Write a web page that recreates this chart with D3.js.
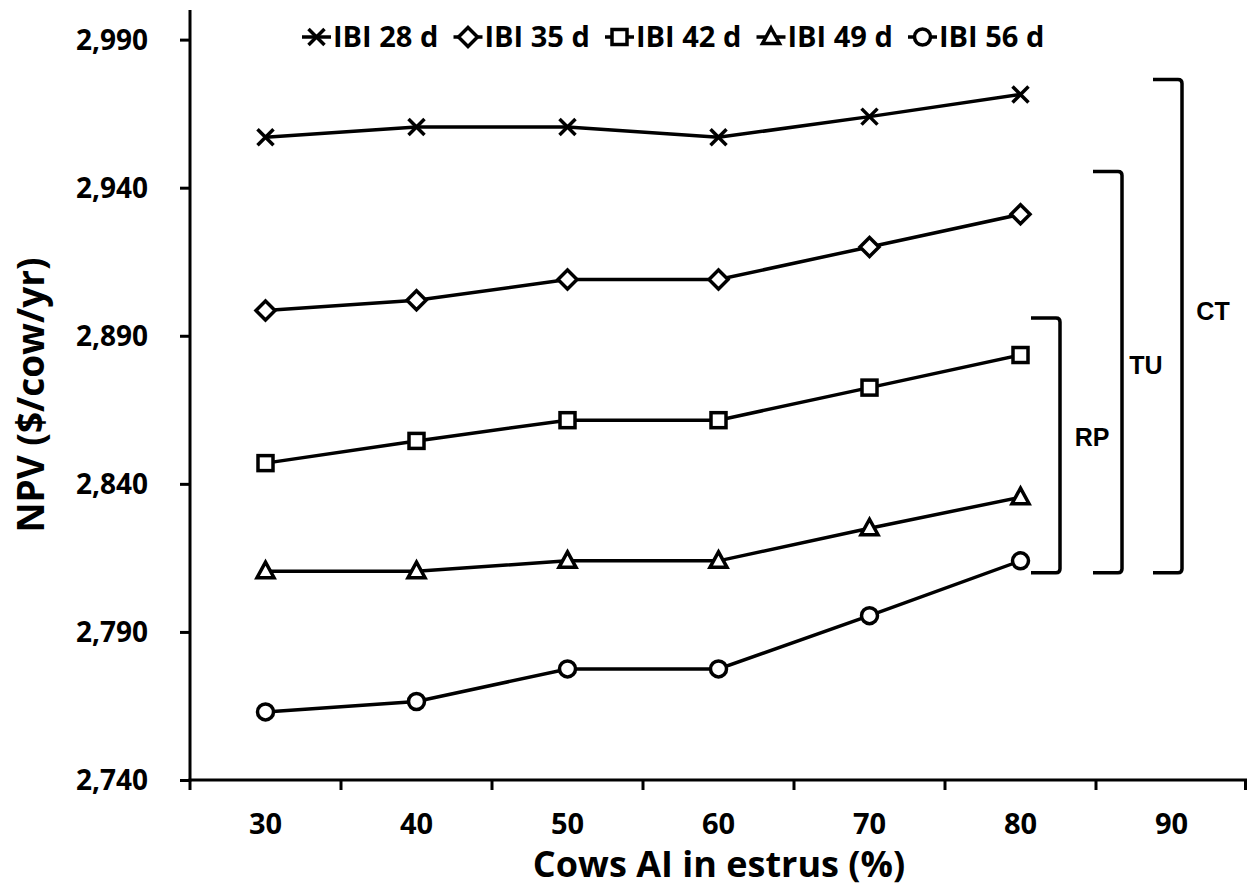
<!DOCTYPE html>
<html>
<head>
<meta charset="utf-8">
<script src="https://cdn.jsdelivr.net/npm/d3@7"></script>
<style>
  body { margin: 0; background: #fff; }
  text { font-family: "Open Sans", "DejaVu Sans", sans-serif; font-weight: bold; fill: #000; }
</style>
</head>
<body>
<svg id="chart" width="1247" height="888"></svg>
<script>
// categories on the x axis (90 has no data)
var categories = [30, 40, 50, 60, 70, 80, 90];
var yTicks = [2740, 2790, 2840, 2890, 2940, 2990];

var seriesNames = ['IBI 28 d', 'IBI 35 d', 'IBI 42 d', 'IBI 49 d', 'IBI 56 d'];
var seriesSymbols = ['cross', 'diamond', 'square', 'triangle', 'circle'];

// NPV values for 30..80 % cows AI in estrus
var ibi28 = [2957, 2960.5, 2960.5, 2957, 2964, 2971.5];
var ibi35 = [2898.5, 2902, 2909, 2909, 2920, 2931];
var ibi42 = [2847, 2854.5, 2861.5, 2861.5, 2872.5, 2883.5];
var ibi49 = [2810.5, 2810.5, 2814, 2814, 2825, 2835.5];
var ibi56 = [2763, 2766.5, 2777.5, 2777.5, 2795.5, 2814];
var allSeries = [ibi28, ibi35, ibi42, ibi49, ibi56];

// brackets: label, top value, bottom value
var bracketLabels = ['RP', 'TU', 'CT'];
var bracketTops = [2896, 2945.5, 2976.5];
var bracketBottom = 2810;

var svg = d3.select('#chart');
var mLeft = 190, mRight = 1247, mTop = 10, mBottom = 780;

var x = d3.scaleBand().domain(categories).range([mLeft, mRight]).padding(0);
var y = d3.scaleLinear().domain([2740, 3000]).range([mBottom, mTop]);

// y axis
var yAxis = d3.axisLeft(y).tickValues(yTicks).tickSize(10).tickFormat(d3.format(','));
var gy = svg.append('g').attr('transform', 'translate(' + mLeft + ',0)').call(yAxis);
gy.select('.domain').remove();
gy.selectAll('.tick line').attr('stroke', '#000').attr('stroke-width', 3);
gy.selectAll('.tick text').attr('font-size', 28).attr('x', -42).attr('dy', '0.35em');
svg.append('line').attr('x1', mLeft).attr('x2', mLeft).attr('y1', mTop).attr('y2', mBottom + 1.5)
  .attr('stroke', '#000').attr('stroke-width', 3);

// x axis
var xAxis = d3.axisBottom(x).tickSize(0).tickPadding(0);
var gx = svg.append('g').attr('transform', 'translate(0,' + mBottom + ')').call(xAxis);
gx.select('.domain').remove();
gx.selectAll('.tick text').attr('font-size', 29).attr('y', 44).attr('dy', '0.35em');
svg.append('line').attr('x1', mLeft - 1.5).attr('x2', mRight).attr('y1', mBottom).attr('y2', mBottom)
  .attr('stroke', '#000').attr('stroke-width', 3);
var bounds = categories.map(function(c) { return x(c); }).concat([mRight - 1.5]);
svg.selectAll('.xtick').data(bounds).enter().append('line')
  .attr('x1', function(d) { return d; }).attr('x2', function(d) { return d; })
  .attr('y1', mBottom).attr('y2', mBottom + 10)
  .attr('stroke', '#000').attr('stroke-width', 3);

// axis titles
svg.append('text').attr('x', 719).attr('y', 864).attr('dy', '0.35em')
  .attr('text-anchor', 'middle').attr('font-size', 36).text('Cows AI in estrus (%)');
svg.append('text').attr('transform', 'translate(31,395) rotate(-90)').attr('dy', '0.35em')
  .attr('text-anchor', 'middle').attr('font-size', 37).text('NPV ($/cow/yr)');

function drawSymbol(g, kind, cx, cy) {
  var s;
  if (kind === 'cross') {
    s = g.append('path').attr('d', 'M' + (cx - 8) + ',' + (cy - 8) + 'L' + (cx + 8) + ',' + (cy + 8) +
      'M' + (cx - 8) + ',' + (cy + 8) + 'L' + (cx + 8) + ',' + (cy - 8)).attr('fill', 'none');
  } else if (kind === 'diamond') {
    s = g.append('path').attr('d', 'M' + cx + ',' + (cy - 9.5) + 'L' + (cx + 9.5) + ',' + cy + 'L' + cx + ',' + (cy + 9.5) +
      'L' + (cx - 9.5) + ',' + cy + 'Z');
  } else if (kind === 'square') {
    s = g.append('rect').attr('x', cx - 7.5).attr('y', cy - 7.5).attr('width', 15).attr('height', 15);
  } else if (kind === 'triangle') {
    s = g.append('path').attr('d', 'M' + cx + ',' + (cy - 9) + 'L' + (cx + 8.5) + ',' + (cy + 6.5) + 'L' + (cx - 8.5) + ',' + (cy + 6.5) + 'Z');
  } else {
    s = g.append('circle').attr('cx', cx).attr('cy', cy).attr('r', 8);
  }
  s.attr('stroke', '#000').attr('stroke-width', 3.5);
  if (kind !== 'cross') s.attr('fill', '#fff');
}

var line = d3.line()
  .x(function(d, i) { return x(categories[i]) + x.bandwidth() / 2; })
  .y(function(d) { return y(d); });

allSeries.forEach(function(vals, si) {
  var g = svg.append('g');
  g.append('path').datum(vals).attr('d', line)
    .attr('fill', 'none').attr('stroke', '#000').attr('stroke-width', 3.5);
  vals.forEach(function(v, i) {
    drawSymbol(g, seriesSymbols[si], x(categories[i]) + x.bandwidth() / 2, y(v));
  });
});

// brackets
var bx = [1060, 1122, 1182];
var labelPos = [[1092, 437], [1146, 365], [1213, 311]];
bracketLabels.forEach(function(lab, i) {
  var x2 = bx[i], x1 = x2 - 29, y1 = y(bracketTops[i]), y2 = y(bracketBottom);
  svg.append('path')
    .attr('d', 'M' + x1 + ',' + y1 + 'L' + (x2 - 4) + ',' + y1 + 'Q' + x2 + ',' + y1 + ' ' + x2 + ',' + (y1 + 4) +
      'L' + x2 + ',' + (y2 - 4) + 'Q' + x2 + ',' + y2 + ' ' + (x2 - 4) + ',' + y2 + 'L' + x1 + ',' + y2)
    .attr('fill', 'none').attr('stroke', '#000').attr('stroke-width', 3.5);
  svg.append('text').attr('x', labelPos[i][0]).attr('y', labelPos[i][1]).attr('dy', '0.35em')
    .attr('text-anchor', 'middle').style('font-family', '"Liberation Sans", Arial, sans-serif')
    .attr('font-size', 25).text(lab);
});

// legend
var lg = svg.append('g');
seriesNames.forEach(function(name, i) {
  var lx = 302 + i * 151.5, ly = 37;
  lg.append('line').attr('x1', lx).attr('x2', lx + 29).attr('y1', ly).attr('y2', ly)
    .attr('stroke', '#000').attr('stroke-width', 3.5);
  drawSymbol(lg, seriesSymbols[i], lx + 14.5, ly);
  lg.append('text').attr('x', lx + 31).attr('y', ly).attr('dy', '0.35em')
    .attr('font-size', 29).text(name);
});
</script>
</body>
</html>
